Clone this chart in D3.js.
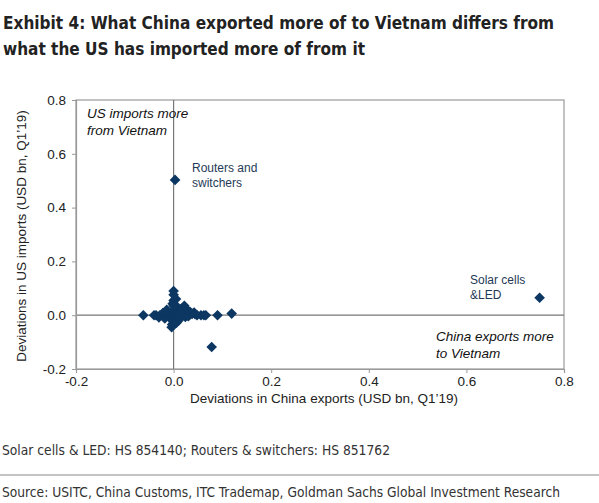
<!DOCTYPE html>
<html><head><meta charset="utf-8">
<script src="https://cdn.jsdelivr.net/npm/d3@7"></script>
<style>body{margin:0;background:#fff}svg{display:block}</style>
</head><body>
<script>
const xTicks = [-0.2, 0.0, 0.2, 0.4, 0.6, 0.8];
const yTicks = [-0.2, 0.0, 0.2, 0.4, 0.6, 0.8];
// China export deviations (x) and US import deviations (y), USD bn
const xValues = [0.003, 0.75, -0.062, 0.09, 0.119, 0.078, -0.004, -0.003, 0.0, 0.0, -0.002, 0.022, 0.056, 0.042,
  -0.036, -0.04, -0.028, -0.02, -0.012, -0.006, 0.006, 0.012, 0.018, 0.026, 0.032, 0.038, 0.048, 0.062, 0.066,
  0.004, -0.004, 0.008, 0.014, 0.002, -0.008, 0.01, 0.02, 0.028, 0.0, 0.005,
  -0.03, -0.018, -0.01, 0.0, 0.012, 0.024, 0.034, -0.022, -0.014, 0.016, 0.03, 0.044, 0.0, 0.006];
const yValues = [0.503, 0.065, 0.0, 0.0, 0.006, -0.118, -0.045, -0.035, 0.09, 0.076, 0.043, 0.035, 0.0, 0.01,
  0.0, 0.0, 0.0, 0.0, 0.0, 0.0, 0.0, 0.0, 0.0, 0.0, 0.0, 0.005, 0.0, 0.0, 0.0,
  0.02, 0.012, 0.03, 0.01, -0.015, -0.01, -0.02, 0.015, 0.02, 0.055, 0.06,
  -0.008, -0.012, 0.01, -0.025, -0.012, -0.006, 0.012, 0.008, 0.02, 0.024, -0.004, 0.004, 0.035, -0.028];
const titleLines = ["Exhibit 4: What China exported more of to Vietnam differs from", "what the US has imported more of from it"];
const xLabel = "Deviations in China exports (USD bn, Q1\u201919)";
const yLabel = "Deviations in US imports (USD bn, Q1\u201919)";
const footnote = "Solar cells & LED: HS 854140; Routers & switchers: HS 851762";
const source = "Source: USITC, China Customs, ITC Trademap, Goldman Sachs Global Investment Research";

const W = 599, H = 503;
const svg = d3.select("body").append("svg").attr("width", W).attr("height", H);
const L = 76, R = 564, T = 100, B = 369;
const x = d3.scaleLinear().domain([-0.2, 0.8]).range([L, R]);
const y = d3.scaleLinear().domain([-0.2, 0.8]).range([B, T]);
const condensed = "'Liberation Sans Narrow','DejaVu Sans Condensed','Roboto Condensed',sans-serif";
const sans = "'Liberation Sans',Arial,sans-serif";
const axisCol = "#999";

// title
const tt = svg.append("g").attr("font-family", condensed).attr("font-weight", "bold").attr("font-size", 18.5).attr("fill", "#222");
tt.append("text").attr("x", 3).attr("y", 29).text(titleLines[0]).attr("textLength", 551).attr("lengthAdjust", "spacingAndGlyphs");
tt.append("text").attr("x", 3).attr("y", 55).text(titleLines[1]).attr("textLength", 362).attr("lengthAdjust", "spacingAndGlyphs");

// frame
svg.append("rect").attr("x", L).attr("y", T).attr("width", R - L).attr("height", B - T)
  .attr("fill", "none").attr("stroke", axisCol).attr("stroke-width", 1.2);
// zero lines
svg.append("line").attr("x1", x(0)).attr("x2", x(0)).attr("y1", T).attr("y2", B).attr("stroke", "#777").attr("stroke-width", 1.2);
svg.append("line").attr("x1", L).attr("x2", R).attr("y1", y(0)).attr("y2", y(0)).attr("stroke", "#777").attr("stroke-width", 1.2);

// axes
const fmt = d => d3.format(".1f")(d).replace("\u2212", "-");
const xa = svg.append("g").attr("transform", `translate(0,${B})`)
  .call(d3.axisBottom(x).tickValues(xTicks).tickFormat(fmt).tickSize(4).tickPadding(3));
const ya = svg.append("g").attr("transform", `translate(${L},0)`)
  .call(d3.axisLeft(y).tickValues(yTicks).tickFormat(fmt).tickSize(4).tickPadding(6));
[xa, ya].forEach(g => {
  g.select(".domain").attr("stroke", axisCol).attr("stroke-width", 1.2);
  g.selectAll(".tick line").attr("stroke", axisCol);
  g.selectAll(".tick text").attr("font-family", sans).attr("font-size", 13.5).attr("fill", "#222");
});

// axis labels
svg.append("text").attr("x", 324).attr("y", 403).attr("text-anchor", "middle")
  .attr("font-family", sans).attr("font-size", 13.5).attr("fill", "#222").text(xLabel);
svg.append("text").attr("transform", `translate(26,236) rotate(-90)`).attr("text-anchor", "middle")
  .attr("font-family", sans).attr("font-size", 13.5).attr("fill", "#222").text(yLabel);

// points
const pts = xValues.map((v, i) => ({ x: v, y: yValues[i] }));
svg.append("g").selectAll("path").data(pts).join("path")
  .attr("d", d3.symbol(d3.symbolDiamond2, 72))
  .attr("transform", d => `translate(${x(d.x)},${y(d.y)})`)
  .attr("fill", "#0c3762");

// annotations
const ann = (lines, ax, ay, size, italic) => {
  const t = svg.append("text").attr("font-family", sans).attr("font-size", size).attr("fill", italic ? "#111" : "#1f3a56")
    .attr("font-style", italic ? "italic" : "normal");
  lines.forEach((s, i) => t.append("tspan").attr("x", ax).attr("y", ay + i * (size + 3)).text(s));
};
ann(["US imports more", "from Vietnam"], 87, 118, 13.5, true);
ann(["Routers and", "switchers"], 192, 172, 12, false);
ann(["Solar cells", "&LED"], 470, 284, 12, false);
ann(["China exports more", "to Vietnam"], 436, 341, 13.5, true);

// footnote and source
svg.append("text").attr("x", 2).attr("y", 455).attr("font-family", condensed).attr("font-size", 14).attr("fill", "#333").text(footnote)
  .attr("textLength", 388).attr("lengthAdjust", "spacingAndGlyphs");
svg.append("line").attr("x1", 0).attr("x2", W).attr("y1", 475).attr("y2", 475).attr("stroke", "#888").attr("stroke-width", 1);
svg.append("text").attr("x", 2).attr("y", 497).attr("font-family", condensed).attr("font-size", 13.5).attr("fill", "#333").text(source)
  .attr("textLength", 558).attr("lengthAdjust", "spacingAndGlyphs");
</script>
</body></html>
